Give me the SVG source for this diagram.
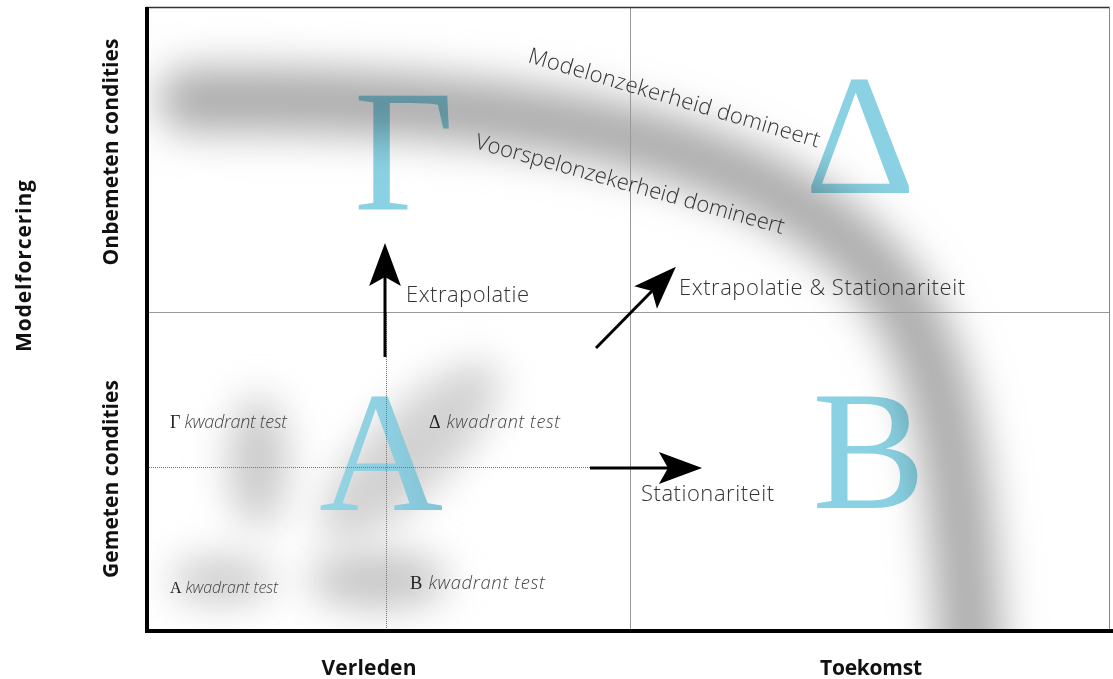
<svg xmlns="http://www.w3.org/2000/svg" width="1113" height="679" viewBox="0 0 1113 679">
<defs>
  <filter id="blurBand" x="-20%" y="-20%" width="140%" height="140%"><feGaussianBlur stdDeviation="21"/></filter>
  <filter id="blurBlob" x="-80%" y="-80%" width="260%" height="260%"><feGaussianBlur stdDeviation="19"/></filter>
  <clipPath id="frameClip"><rect x="149" y="8" width="961" height="621"/></clipPath>
  <linearGradient id="gradA" x1="0" y1="0" x2="1" y2="0">
    <stop offset="0" stop-color="#8fd3e3"/>
    <stop offset="0.6" stop-color="#86cde0"/>
    <stop offset="1" stop-color="#79bfd2"/>
  </linearGradient>
  <marker id="head" markerUnits="userSpaceOnUse" markerWidth="50" markerHeight="40" viewBox="-10 -16 44 32" refX="0" refY="0" orient="auto" overflow="visible">
    <path d="M30,0 L-8,-14 L0,0 L-8,14 Z" fill="#000"/>
  </marker>
  <style>
    .big{font-family:"Liberation Serif","Times New Roman",serif;fill:#8ad2e3;mix-blend-mode:multiply;text-anchor:middle}
    .lbl{font-family:"Open Sans","Liberation Sans",sans-serif;font-weight:300;font-size:22px;fill:#333}
    .kw{font-family:"Open Sans","Liberation Sans",sans-serif;font-style:italic;font-weight:300;fill:#444}
    .gk{font-family:"Liberation Serif","Times New Roman",serif;font-style:normal;fill:#222}
    .axis{font-family:"Open Sans","Liberation Sans",sans-serif;font-weight:700;font-size:21px;fill:#111}
    .arrow{stroke:#000;stroke-width:3;fill:none;marker-end:url(#head)}
    .div{stroke:#999;stroke-width:1}
    .dot{stroke:#777;stroke-width:1;stroke-dasharray:1 1}
  </style>
</defs>
<rect width="1113" height="679" fill="#fff"/>

<g id="shading" clip-path="url(#frameClip)">
  <path d="M 190,100 C 350,98 520,108 640,140 C 760,172 860,230 905,310 C 945,380 962,460 972,690" fill="none" stroke="#acacac" stroke-width="64" stroke-linecap="round" filter="url(#blurBand)"/>
  <ellipse cx="258" cy="462" rx="30" ry="66" fill="#cbcbcb" filter="url(#blurBlob)"/>
  <ellipse cx="410" cy="452" rx="120" ry="42" transform="rotate(-45 410 452)" fill="#d2d2d2" filter="url(#blurBlob)"/>
  <ellipse cx="222" cy="580" rx="52" ry="24" fill="#cdcdcd" filter="url(#blurBlob)"/>
  <ellipse cx="378" cy="580" rx="70" ry="30" fill="#c8c8c8" filter="url(#blurBlob)"/>
</g>

<g id="grid">
  <line class="div" x1="630.5" y1="8" x2="630.5" y2="630"/>
  <line class="div" x1="149" y1="312.5" x2="1110" y2="312.5"/>
  <line x1="146" y1="7.5" x2="1110" y2="7.5" stroke="#333" stroke-width="1.5"/>
  <line x1="1109.5" y1="7" x2="1109.5" y2="630" stroke="#888" stroke-width="1"/>
</g>

<g id="node-gamma"><text class="big" x="404" y="210" font-size="174">Γ</text></g>
<g id="node-delta"><text class="big" x="860" y="193" font-size="172">Δ</text></g>
<g id="node-a"><text class="big" x="381" y="510" font-size="172" style="mix-blend-mode:normal;fill:url(#gradA)" opacity="0.92">A</text></g>
<g id="node-b"><text class="big" x="869" y="508" font-size="170">B</text></g>

<g id="dotted">
  <line class="dot" x1="386.5" y1="313" x2="386.5" y2="629"/>
  <line class="dot" x1="149" y1="467.5" x2="590" y2="467.5"/>
</g>

<g id="frame">
  <line x1="147" y1="7" x2="147" y2="633" stroke="#000" stroke-width="4"/>
  <line x1="145" y1="631" x2="1113" y2="631" stroke="#000" stroke-width="4"/>
</g>

<g id="connectors">
  <line class="arrow" x1="385" y1="357" x2="385" y2="277"/>
  <line class="arrow" x1="596" y1="348" x2="652" y2="291"/>
  <line class="arrow" x1="590" y1="468" x2="668" y2="468"/>
</g>

<g id="labels">
  <text class="lbl" x="406" y="302" textLength="123">Extrapolatie</text>
  <text class="lbl" x="679" y="295" textLength="286">Extrapolatie &amp; Stationariteit</text>
  <text class="lbl" x="641" y="501" textLength="133">Stationariteit</text>
  <text class="lbl" transform="translate(527,62) rotate(16.4)" textLength="303">Modelonzekerheid domineert</text>
  <text class="lbl" transform="translate(474,148) rotate(15.6)" textLength="320">Voorspelonzekerheid domineert</text>
</g>

<g id="tests">
  <text class="kw" x="170" y="428" font-size="18" textLength="117"><tspan class="gk">Γ</tspan> kwadrant test</text>
  <text class="kw" x="429" y="428" font-size="18" textLength="131"><tspan class="gk">Δ</tspan> kwadrant test</text>
  <text class="kw" x="170" y="593" font-size="16" textLength="108"><tspan class="gk">A</tspan> kwadrant test</text>
  <text class="kw" x="410" y="589" font-size="18.5" textLength="135"><tspan class="gk">B</tspan> kwadrant test</text>
</g>

<g id="axes">
  <text class="axis" transform="translate(31,266) rotate(-90)" text-anchor="middle" textLength="172">Modelforcering</text>
  <text class="axis" transform="translate(118,152) rotate(-90)" text-anchor="middle" textLength="227">Onbemeten condities</text>
  <text class="axis" transform="translate(118,479) rotate(-90)" text-anchor="middle" textLength="198">Gemeten condities</text>
  <text class="axis" x="369" y="675" text-anchor="middle" textLength="95">Verleden</text>
  <text class="axis" x="871" y="675" text-anchor="middle" textLength="102">Toekomst</text>
</g>
</svg>
